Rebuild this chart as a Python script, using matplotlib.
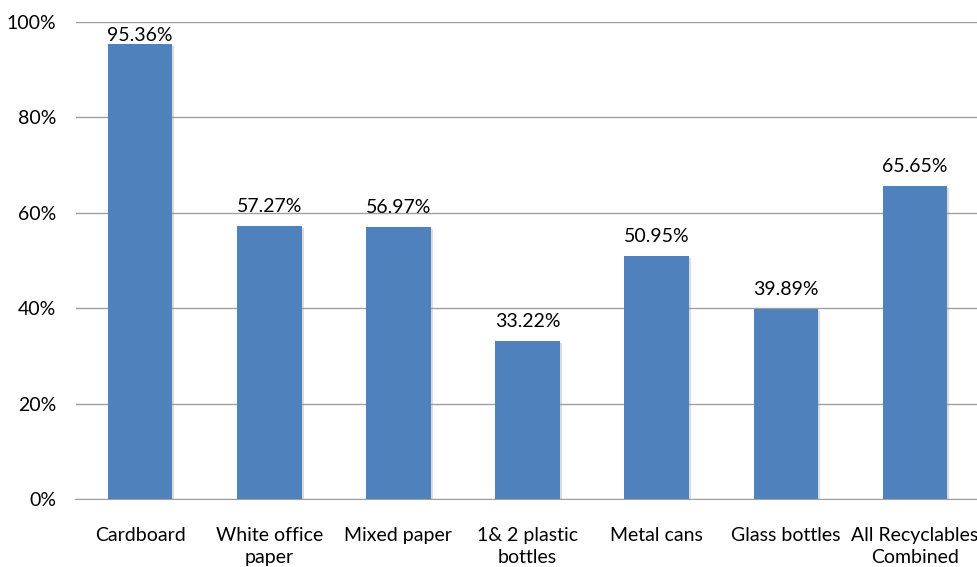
import matplotlib
matplotlib.use("Agg")
import matplotlib.pyplot as plt
import matplotlib.patheffects as pe
from matplotlib.ticker import FuncFormatter

categories = ["Cardboard", "White office\npaper", "Mixed paper", "1& 2 plastic\nbottles",
              "Metal cans", "Glass bottles", "All Recyclables\nCombined"]
values = [95.36, 57.27, 56.97, 33.22, 50.95, 39.89, 65.65]
yticks = [0, 20, 40, 60, 80, 100]

plt.rcParams['font.family'] = ['Lato', 'DejaVu Sans']
FS = 14

fig = plt.figure(figsize=(9.77, 5.67), dpi=100)
W, H = 977, 567
ax = fig.add_axes([75.5 / W, (H - 499) / H, (979.5 - 75.5) / W, 477 / H])

x = range(len(categories))
bars = ax.bar(x, values, width=0.5, color="#4F81BD", zorder=3)
for b in bars:
    b.set_path_effects([pe.SimplePatchShadow(offset=(1.5, -1.5), shadow_rgbFace="#999999", alpha=0.35), pe.Normal()])

for xi, v in zip(x, values):
    if v + 2.3 + 4.5 > 100:
        ax.text(xi, 98.9, f"{v:.2f}%", ha="center", va="top", fontsize=FS, color="#000000", zorder=5)
    else:
        ax.text(xi, v + 2.3, f"{v:.2f}%", ha="center", va="bottom", fontsize=FS, color="#000000", zorder=5)

ax.set_xlim(-0.5, len(categories) - 0.5)
ax.set_ylim(0, 100)
ax.set_yticks(yticks)
ax.yaxis.set_major_formatter(FuncFormatter(lambda v, p: f"{int(v)}%"))
ax.set_xticks(list(x))
ax.set_xticklabels(categories, fontsize=FS, linespacing=1.4)
ax.tick_params(axis="y", labelsize=FS, length=0, pad=14)
ax.tick_params(axis="x", length=0, pad=20)
ax.grid(axis="y", color="#A0A0A0", linewidth=1, zorder=0)
for s in ["top", "right", "left"]:
    ax.spines[s].set_visible(False)
ax.spines["bottom"].set_color("#A0A0A0")
ax.spines["bottom"].set_zorder(4)

fig.savefig("out.png", dpi=100)
